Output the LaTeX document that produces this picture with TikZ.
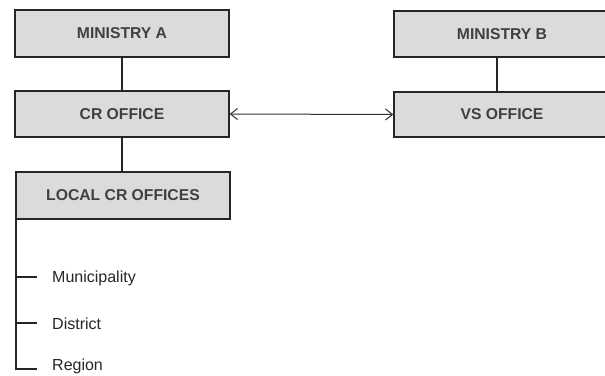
\documentclass[tikz,border=0pt]{standalone}
\usepackage{fontspec}
\setmainfont{Liberation Sans}
\usetikzlibrary{arrows.meta}
\begin{document}
\begin{tikzpicture}[x=1pt,y=-1pt,
  box/.style={draw=black!85,line width=1.4pt,fill=black!14,text=black!75,
    font=\fontsize{15.7}{17}\selectfont\bfseries,inner sep=0pt},
  link/.style={draw=black!85,line width=1.2pt},
  lbl/.style={anchor=west,text=black!85,font=\fontsize{16}{18}\selectfont,inner sep=0pt}]
\useasboundingbox (0,0) rectangle (605,375);
\begin{scope}
\clip (0,0) rectangle (605,375);
\node[box,minimum width=214pt,minimum height=47pt] (ma) at (122,33.5) {MINISTRY A};
\node[box,minimum width=214pt,minimum height=46pt] (cr) at (122,114) {CR OFFICE};
\node[box,minimum width=214pt,minimum height=47pt] (lcr) at (123,195.5) {LOCAL CR OFFICES};
\node[box,minimum width=216pt,minimum height=46pt] (mb) at (502,34) {MINISTRY B};
\node[box,minimum width=216pt,minimum height=45pt] (vs) at (502,114.5) {VS OFFICE};
\end{scope}
\draw[link] (ma.south) -- (cr.north);
\draw[link] (cr.south) -- (cr.south |- lcr.north);
\draw[link] ([xshift=-5pt]mb.south) -- ([xshift=-5pt]vs.north);
\draw[draw=black!80,line width=1pt,{Straight Barb[length=7pt,width=11pt]}-{Straight Barb[length=7pt,width=11pt]}] (cr.east) -- (vs.west);
\coordinate (top) at (16,219);
\coordinate (bot) at (16,369);
\node[lbl] (mun) at (52,278) {Municipality};
\node[lbl] (dis) at (52,324) {District};
\node[lbl] (reg) at (52,366) {Region};
\draw[link] (top) -- (bot) -- (37,369);
\draw[link] (16,277) -- (37,277);
\draw[link] (16,323) -- (37,323);
\end{tikzpicture}
\end{document}
